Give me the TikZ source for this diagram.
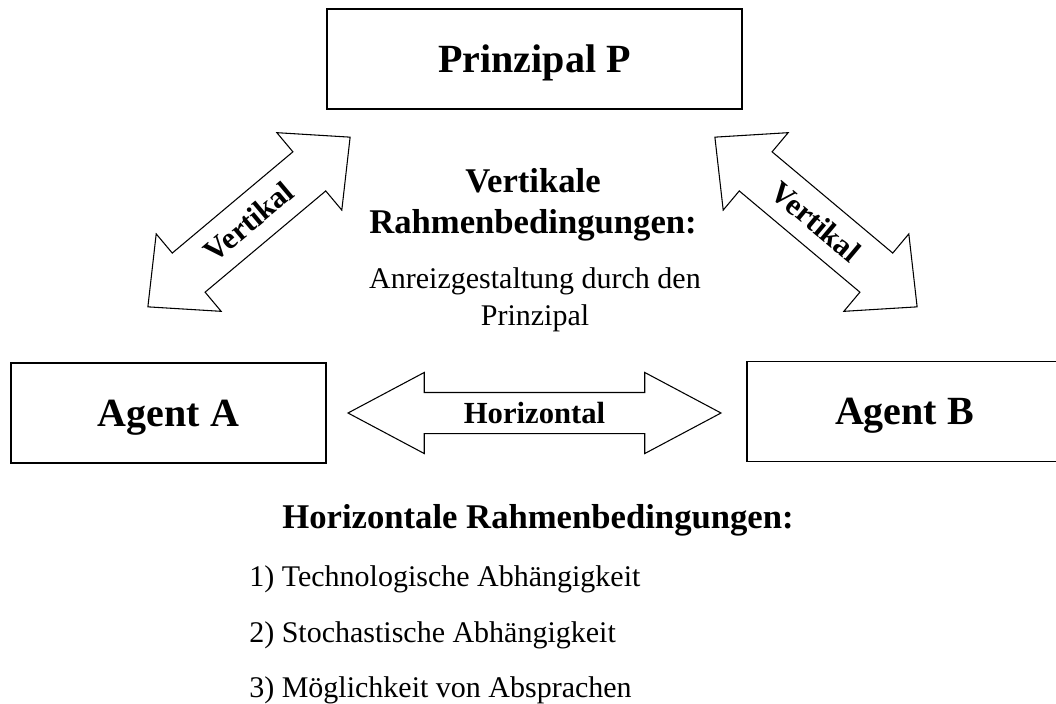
\documentclass[tikz,border=0pt]{standalone}
\usepackage{fontspec}
\setmainfont{Liberation Serif}
\usetikzlibrary{shapes.arrows,positioning}

\begin{document}
\begin{tikzpicture}[x=0.75pt, y=-0.75pt,
    box/.style={draw, line width=1pt, inner sep=0pt, text height=20pt, text depth=0pt,
        font=\fontsize{30}{36}\selectfont\bfseries},
    pfeil/.style={draw, double arrow, line width=0.8pt, inner xsep=4pt, text height=15.2pt,
        text depth=0pt, font=\fontsize{23}{28}\selectfont\bfseries},
    titel/.style={font=\fontsize{26}{31}\selectfont\bfseries, align=center},
    normal/.style={font=\fontsize{22.5}{28}\selectfont, inner sep=0pt}]
    \useasboundingbox (0,0) rectangle (1056,703);

    % Prinzipal und Agenten
    \node[box, minimum width=311.25pt, minimum height=75pt] (prinzipal) at (534.5,59) {Prinzipal P};
    \node[box, minimum width=236.25pt, minimum height=75pt] (agentA) at (168.5,413) {Agent A};
    \node[box, minimum width=236.25pt, minimum height=75pt] (agentB) at (904.5,411.5) {Agent B};

    % Beziehungen
    \node[pfeil, minimum height=279.75pt, minimum width=60pt, double arrow head extend=15pt,
        double arrow tip angle=56, inner ysep=7.4pt] (horizontal) at (534.5,413) {Horizontal};
    \node[pfeil, rotate=40, minimum height=198pt, minimum width=75pt, double arrow head extend=18.75pt,
        double arrow tip angle=87, inner ysep=11.15pt] (vertikalA) at (249,222) {Vertikal};
    \node[pfeil, rotate=-40, minimum height=198pt, minimum width=75pt, double arrow head extend=18.75pt,
        double arrow tip angle=87, inner ysep=11.15pt] (vertikalB) at (816,222) {Vertikal};

    % Rahmenbedingungen
    \node[titel] (vtitel) at (533,205) {Vertikale\\Rahmenbedingungen:};
    \node[normal, align=center] (anreiz) at (535,299.5) {Anreizgestaltung durch den\\Prinzipal};
    \node[titel, anchor=base] (htitel) at (538,528) {Horizontale Rahmenbedingungen:};
    \node[normal, anchor=base west] (punkt1) at (249,586) {1) Technologische Abhängigkeit};
    \node[normal, anchor=base west] (punkt2) at (249,642) {2) Stochastische Abhängigkeit};
    \node[normal, anchor=base west] (punkt3) at (249,697) {3) Möglichkeit von Absprachen};
\end{tikzpicture}
\end{document}
